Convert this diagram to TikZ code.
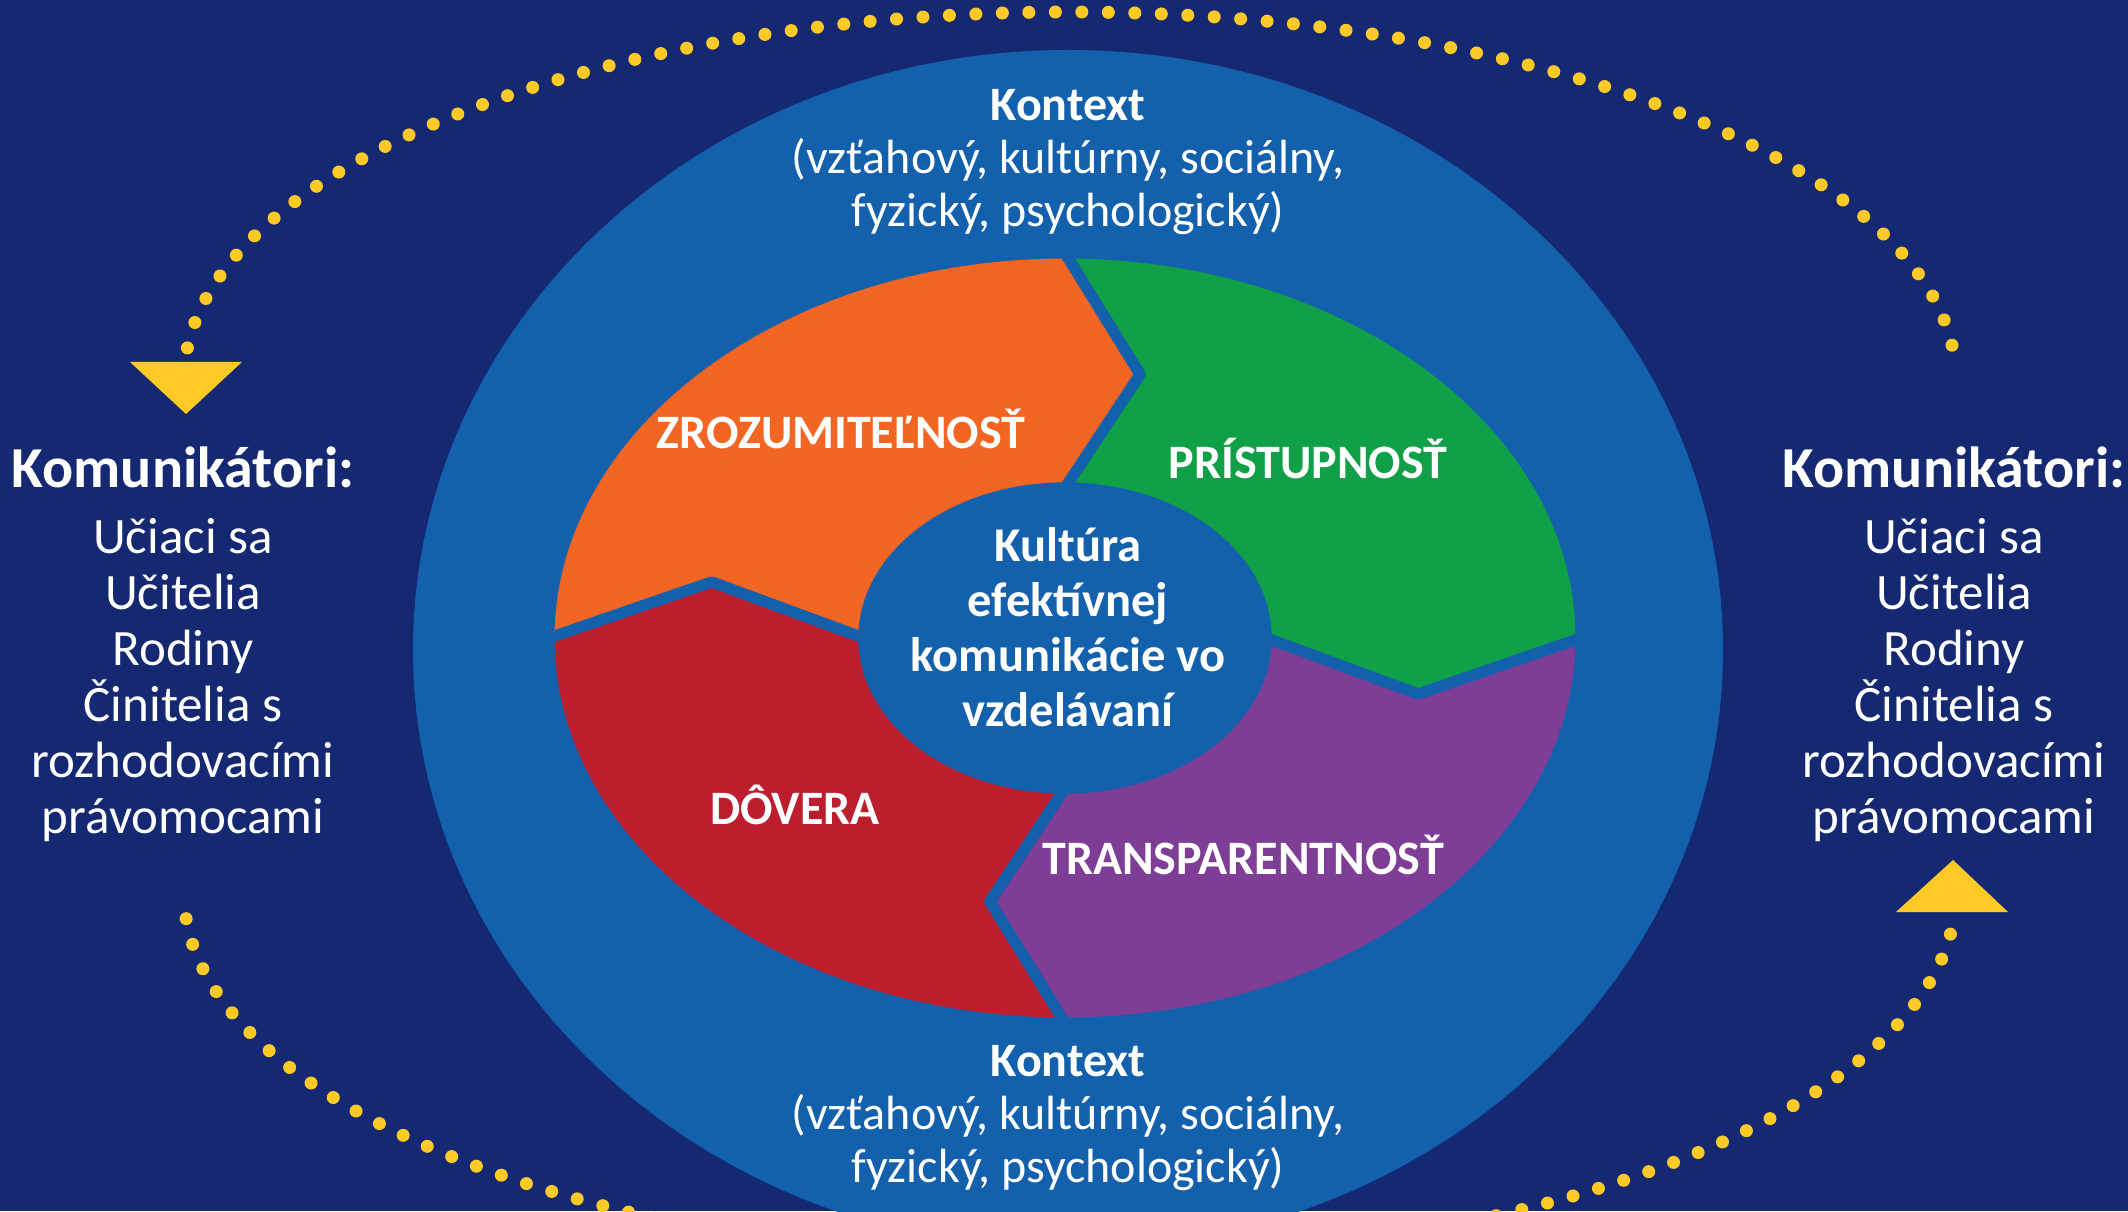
\documentclass[tikz,border=0pt]{standalone}
\usepackage{fontspec}
\setmainfont{Carlito}
\definecolor{navy}{RGB}{21,40,114}
\definecolor{midblue}{RGB}{19,96,172}
\definecolor{segorange}{RGB}{242,101,34}
\definecolor{seggreen}{RGB}{16,160,72}
\definecolor{segpurple}{RGB}{126,62,150}
\definecolor{segred}{RGB}{189,30,45}
\definecolor{dotyellow}{RGB}{255,202,38}
\newcommand\fsz[2]{\fontsize{#1}{#2}\selectfont}
\tikzset{
  lbl/.style={text=white, inner sep=0pt, anchor=base},
  dotline/.style={dotyellow, line width=13pt, line cap=round, dash pattern=on 0pt off 26.5pt},
  tri/.style={fill=dotyellow},
  gapline/.style={draw=midblue, line width=11pt, line join=round}
}
\begin{document}
\begin{tikzpicture}[x=1pt,y=1pt]
\useasboundingbox (0,0) rectangle (2128,1211);
\fill[navy] (0,0) rectangle (2128,1211);
\begin{scope}
\clip (0,0) rectangle (2128,1211);
\fill[midblue] (1068,561) ellipse [x radius=655, y radius=600];
\draw[dotline] (1070,831) ++(175:886 and 368) arc[start angle=175, end angle=5, x radius=886, y radius=368];
\draw[dotline] (1070,318) ++(184:886 and 368) arc[start angle=184, end angle=355, x radius=886, y radius=368];
\end{scope}
% triangles
\fill[tri] (130,849) -- (242,849) -- (186,797) -- cycle;
\fill[tri] (1896,299) -- (2008,299) -- (1953,351) -- cycle;
% ring segments
\begin{scope}[shift={(1065,573)}, xscale=516, yscale=385]
\foreach \a/\c in {180/segorange, 90/seggreen, 0/segpurple, -90/segred}{
  \fill[\c] (\a:1) arc[start angle=\a, end angle=\a-90, radius=1] -- ({\a-102}:0.70) -- ({\a-90}:0.39) arc[start angle=\a-90, end angle=\a, radius=0.39] -- ({\a-12}:0.70) -- cycle;
}
\foreach \a in {180, 90, 0, -90}{
  \draw[gapline] (\a:1) arc[start angle=\a, end angle=\a-90, radius=1] -- ({\a-102}:0.70) -- ({\a-90}:0.39) arc[start angle=\a-90, end angle=\a, radius=0.39] -- ({\a-12}:0.70) -- cycle;
}
\end{scope}
\fill[midblue] (1065,572) ellipse [x radius=200, y radius=151];
% context texts
\node[lbl] (kt1) at (1068,1090) {\fsz{48}{53}\bfseries Kontext};
\node[lbl] (kt2) at (1068,1037) {\fsz{48}{53}(vzťahový, kultúrny, sociálny,};
\node[lbl] (kt3) at (1068,984) {\fsz{48}{53}fyzický, psychologický)};
\node[lbl] (kb1) at (1068,135) {\fsz{48}{53}\bfseries Kontext};
\node[lbl] (kb2) at (1068,82) {\fsz{48}{53}(vzťahový, kultúrny, sociálny,};
\node[lbl] (kb3) at (1068,29) {\fsz{48}{53}fyzický, psychologický)};
% left communicators
\node[lbl] (lt) at (183,723) {\fsz{58}{64}\bfseries Komunikátori:};
\node[lbl] (l1) at (183,657) {\fsz{51}{56}Učiaci sa};
\node[lbl] (l2) at (183,601) {\fsz{51}{56}Učitelia};
\node[lbl] (l3) at (183,545) {\fsz{51}{56}Rodiny};
\node[lbl] (l4) at (183,489) {\fsz{51}{56}Činitelia s};
\node[lbl] (l5) at (183,433) {\fsz{51}{56}rozhodovacími};
\node[lbl] (l6) at (183,377) {\fsz{51}{56}právomocami};
% right communicators
\node[lbl] (rt) at (1954,723) {\fsz{58}{64}\bfseries Komunikátori:};
\node[lbl] (r1) at (1954,657) {\fsz{51}{56}Učiaci sa};
\node[lbl] (r2) at (1954,601) {\fsz{51}{56}Učitelia};
\node[lbl] (r3) at (1954,545) {\fsz{51}{56}Rodiny};
\node[lbl] (r4) at (1954,489) {\fsz{51}{56}Činitelia s};
\node[lbl] (r5) at (1954,433) {\fsz{51}{56}rozhodovacími};
\node[lbl] (r6) at (1954,377) {\fsz{51}{56}právomocami};
% center text
\node[lbl] (c1) at (1068,649) {\fsz{48.5}{55}\bfseries Kultúra};
\node[lbl] (c2) at (1068,594) {\fsz{48.5}{55}\bfseries efektívnej};
\node[lbl] (c3) at (1068,539) {\fsz{48.5}{55}\bfseries komunikácie vo};
\node[lbl] (c4) at (1068,484) {\fsz{48.5}{55}\bfseries vzdelávaní};
% segment labels
\node[lbl] (s1) at (841,762) {\fsz{48}{54}\bfseries ZROZUMITEĽNOSŤ};
\node[lbl] (s2) at (1308,732) {\fsz{48}{54}\bfseries PRÍSTUPNOSŤ};
\node[lbl] (s3) at (795,386) {\fsz{48}{54}\bfseries DÔVERA};
\node[lbl] (s4) at (1243,336) {\fsz{48}{54}\bfseries TRANSPARENTNOSŤ};
\end{tikzpicture}
\end{document}
